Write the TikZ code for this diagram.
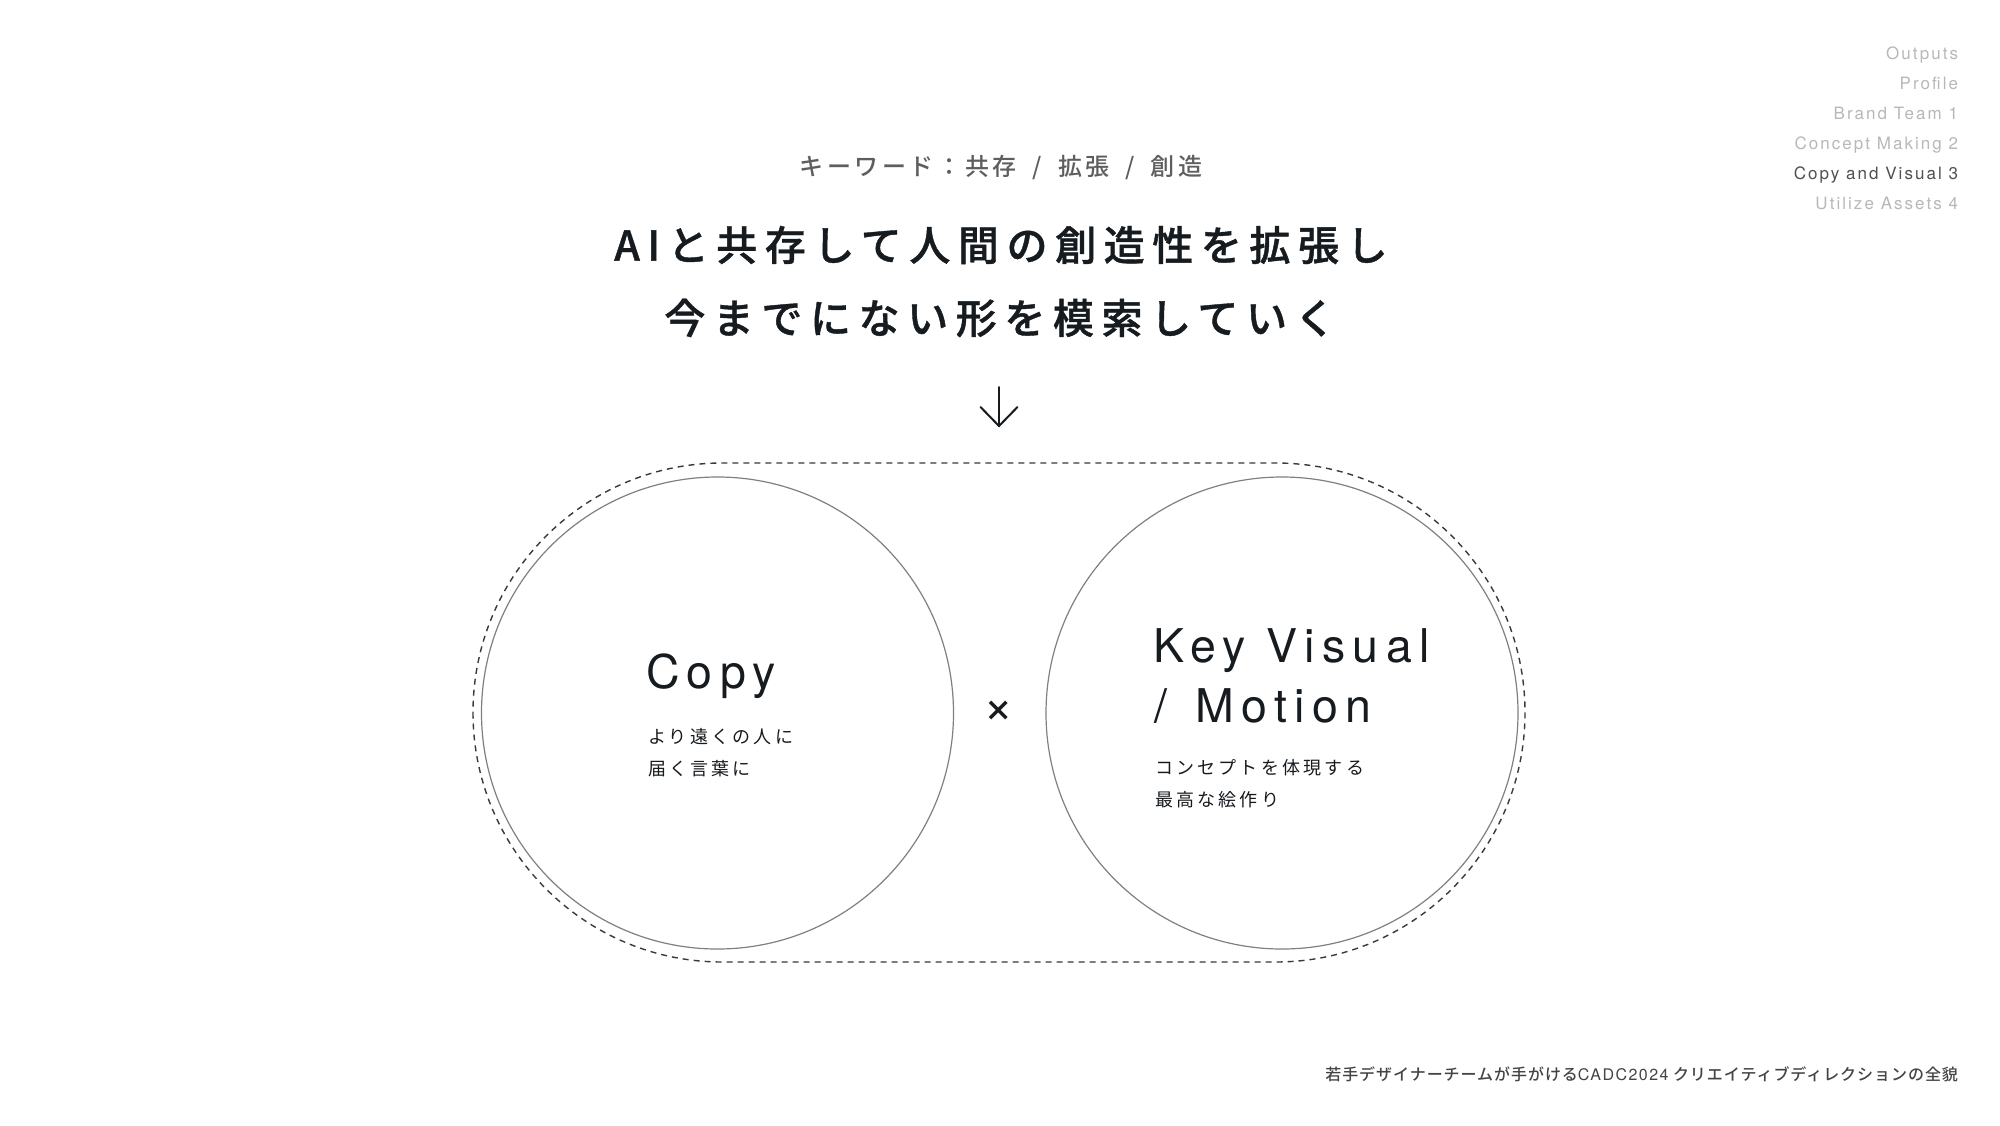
\documentclass[tikz,border=0pt]{standalone}
\usepackage{fontspec}
\setmainfont{TeX Gyre Heros}
\newfontfamily\jp{Noto Sans CJK JP}
\newfontfamily\jpm{Noto Sans CJK JP Medium}
\usetikzlibrary{calc}
\definecolor{ink}{HTML}{161B20}
\definecolor{keygray}{HTML}{5E5E5E}
\definecolor{navgray}{HTML}{B8B8B8}
\definecolor{navdark}{HTML}{505050}
\definecolor{circgray}{HTML}{808080}
\definecolor{dashgray}{HTML}{3A3A3A}
\definecolor{footgray}{HTML}{444444}
\newcommand\fs[1]{\fontsize{#1}{#1}\selectfont}
\begin{document}
\begin{tikzpicture}[x=1pt,y=-1pt,
  txt/.style={inner sep=0pt,outer sep=0pt},
  navitem/.style={txt,anchor=base east,text=navgray,font=\fs{17}\addfontfeature{LetterSpace=12}},
  navcur/.style={navitem,text=navdark},
  bigcircle/.style={circle,draw=circgray,line width=1.2pt,minimum size=472pt,inner sep=0pt},
  outline/.style={draw=dashgray,line width=1.4pt,dash pattern=on 6pt off 5pt},
  headword/.style={txt,anchor=base west,text=ink,font=\fs{46.5}\addfontfeature{LetterSpace=16}},
  subline/.style={txt,anchor=west,text=ink,font=\jp\fs{18}\addfontfeature{LetterSpace=18}},
  titleline/.style={txt,anchor=center,text=ink,font=\jpm\fs{41}\addfontfeature{LetterSpace=18.5,FakeBold=1}},
  arrowline/.style={draw=ink,line width=2pt,line cap=round,line join=miter}
]
\useasboundingbox[fill=white] (0,0) rectangle (2000,1125);

% navigation
\node[navitem] (nav1) at (1958,59) {Outputs};
\node[navitem] (nav2) at (1958,89) {Profile};
\node[navitem] (nav3) at (1958,119) {Brand Team 1};
\node[navitem] (nav4) at (1958,149) {Concept Making 2};
\node[navcur]  (nav5) at (1958,179) {Copy and Visual 3};
\node[navitem] (nav6) at (1958,209) {Utilize Assets 4};

% keywords and title
\node[txt,anchor=center,text=keygray,font=\jpm\fs{24}\addfontfeature{LetterSpace=15}] (kw) at (1001,167.5) {キーワード：共存\hspace{7pt} / \hspace{7pt}拡張\hspace{7pt} / \hspace{7pt}創造};
\node[titleline] (t1) at (1001,245) {AIと共存して人間の創造性を拡張し};
\node[titleline] (t2) at (1000,318) {今までにない形を模索していく};

% arrow
\coordinate (atop) at (999,387);
\coordinate (atip) at (999,426);
\draw[arrowline] (atop) -- (atip);
\draw[arrowline] ($(atip)+(-18.5,-19)$) -- (atip) -- ($(atip)+(18.5,-19)$);

% outline
\draw[outline,rounded corners=249.5pt] (473,463) rectangle (1525,962);

% circles
\node[bigcircle] (copyc) at (717.5,713) {};
\node[bigcircle] (kvc) at (1282,713) {};

\node[txt,anchor=center,text=ink,font=\fs{52}] (times) at (999,712) {×};

% copy
\node[headword] (copyh) at (646,688) {Copy};
\node[subline] (copys1) at (648,737) {より遠くの人に};
\node[subline] (copys2) at (648,769) {届く言葉に};

% key visual
\node[headword] (kvh1) at (1153,662) {Key Visual};
\node[headword] (kvh2) at (1154,722) {/\hspace{8pt} Motion};
\node[subline] (kvs1) at (1155,768) {コンセプトを体現する};
\node[subline] (kvs2) at (1155,800) {最高な絵作り};

% footer
\node[txt,anchor=east,text=footgray,font=\jpm\fs{16}\addfontfeature{LetterSpace=6}] (foot) at (1958,1074) {若手デザイナーチームが手がける{\fontspec{TeX Gyre Heros}\fs{16}\addfontfeature{LetterSpace=9}CADC2024} クリエイティブディレクションの全貌};
\end{tikzpicture}
\end{document}
